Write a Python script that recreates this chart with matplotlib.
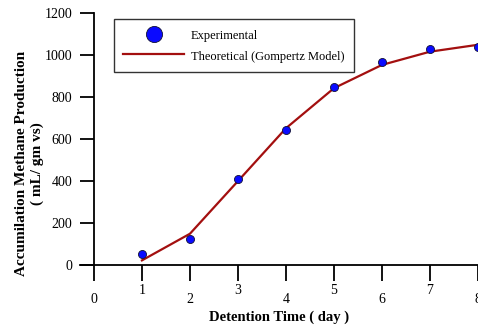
import matplotlib
matplotlib.use("Agg")
import matplotlib.pyplot as plt
from matplotlib.transforms import ScaledTranslation

days = [1, 2, 3, 4, 5, 6, 7, 8]
experimental = [54, 122, 410, 646, 848, 967, 1031, 1041]
theoretical = [22, 149, 400, 652, 843, 954, 1017, 1050]
x_ticks = [0, 1, 2, 3, 4, 5, 6, 7, 8]
y_ticks = [0, 200, 400, 600, 800, 1000, 1200]

plt.rcParams['font.family'] = ['Liberation Serif', 'DejaVu Serif']

fig = plt.figure(figsize=(4.78, 3.27), dpi=100)
ax = fig.add_axes([80/478, 1-265/327, 398/478, (265-13.3)/327])

line, = ax.plot(days, theoretical, color='#a30f0f', lw=1.6, zorder=2,
                label='Theoretical (Gompertz Model)')
pts, = ax.plot(days, experimental, 'o', color='#0a0aff', mec='#111133', mew=0.6,
               ms=5.8, zorder=3, label='Experimental', linestyle='none')

ax.set_xlim(-0.29, 8)
ax.set_ylim(0, 1200)
ax.spines['top'].set_visible(False)
ax.spines['right'].set_visible(False)
ax.spines['left'].set_position(('data', 0))
for s in ('left', 'bottom'):
    ax.spines[s].set_linewidth(1.3)
ax.set_xticks(x_ticks)
ax.set_yticks(y_ticks)
ax.tick_params(axis='x', direction='out', length=11.5, width=1.3, labelsize=10, pad=9)
ax.tick_params(axis='y', direction='out', length=10, width=1.3, labelsize=10, pad=5.5)

for lbl, v in zip(ax.get_xticklabels(), x_ticks):
    if v % 2 == 1:
        lbl.set_transform(lbl.get_transform() + ScaledTranslation(0, 7/72, fig.dpi_scale_trans))

ax.set_xlabel('Detention Time ( day )', fontsize=10.5, fontweight='bold', labelpad=2.6)
ax.set_ylabel('Accumilation Methane Production\n( mL/ gm vs)', fontsize=11,
              fontweight='bold', linespacing=1.2)
ax.yaxis.set_label_coords(44/478, 0.5, transform=fig.transFigure)

leg = ax.legend(handles=[pts, line], loc='upper left', bbox_to_anchor=(114/478, 1-19/327),
                bbox_transform=fig.transFigure, frameon=True, fancybox=False,
                edgecolor='black', fontsize=9, markerscale=2.0, handlelength=4.9,
                handleheight=1.3, handletextpad=0.55, borderpad=0.72,
                labelspacing=0.55, borderaxespad=0)
leg.get_frame().set_linewidth(1.0)

fig.savefig('out.png', dpi=100)
